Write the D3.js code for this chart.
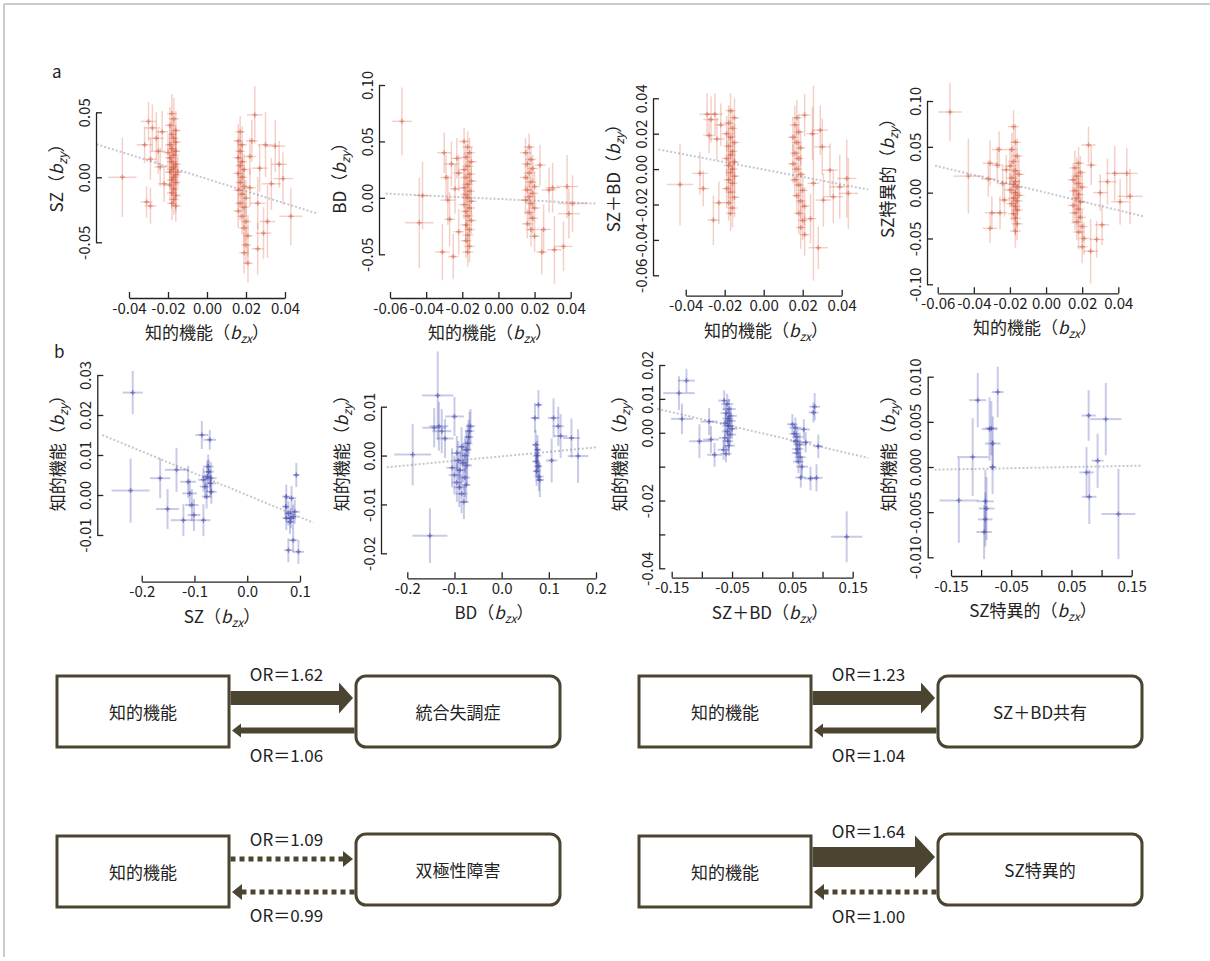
<!DOCTYPE html>
<html>
<head>
<meta charset="utf-8">
<title>MR scatter and OR diagrams</title>
<script src="https://cdn.jsdelivr.net/npm/d3@7"></script>
<style>
  body { margin: 0; background: #fff; }
  svg text { font-family: "Noto Sans CJK JP", "Noto Sans", sans-serif; fill: #222; }
</style>
</head>
<body>
<script>
// ---- panel a: SNP effects, [bzx, half-width x, bzy, half-width y] ----
var snpA1 = [
  [-0.0434,0.0073,0.000,0.0305],
  [-0.030,0.004,0.043,0.015],[-0.028,0.004,0.038,0.018],[-0.032,0.004,0.025,0.014],
  [-0.029,0.003,0.014,0.016],[-0.031,0.003,-0.019,0.012],[-0.029,0.003,-0.022,0.014],
  [-0.026,0.004,0.030,0.020],[-0.025,0.004,0.020,0.017],[-0.024,0.003,0.008,0.015],
  [-0.023,0.003,0.035,0.016],[-0.022,0.003,-0.005,0.014],
  [-0.018,0.0025,0.049,0.015],[-0.017,0.0025,0.045,0.016],[-0.019,0.0025,0.040,0.014],
  [-0.016,0.0025,0.036,0.015],[-0.018,0.0025,0.033,0.013],[-0.017,0.0025,0.030,0.014],
  [-0.016,0.0025,0.027,0.013],[-0.019,0.0025,0.025,0.015],[-0.018,0.0025,0.022,0.012],
  [-0.016,0.0025,0.020,0.014],[-0.017,0.0025,0.017,0.013],[-0.019,0.0025,0.015,0.012],
  [-0.018,0.0025,0.012,0.014],[-0.016,0.0025,0.010,0.012],[-0.017,0.0025,0.008,0.013],
  [-0.018,0.0025,0.006,0.014],[-0.019,0.0025,0.004,0.012],[-0.016,0.0025,0.002,0.013],
  [-0.017,0.0025,0.000,0.013],[-0.018,0.0025,-0.002,0.012],[-0.016,0.0025,-0.004,0.014],
  [-0.019,0.0025,-0.006,0.012],[-0.017,0.0025,-0.009,0.013],[-0.018,0.0025,-0.012,0.012],
  [-0.016,0.0025,-0.014,0.013],[-0.017,0.0025,-0.017,0.012],[-0.018,0.0025,-0.020,0.013],
  [-0.016,0.0025,-0.022,0.012],[-0.020,0.0025,0.019,0.013],[-0.015,0.0025,0.004,0.012],
  [0.017,0.0025,0.035,0.012],[0.016,0.0025,0.028,0.013],[0.018,0.0025,0.025,0.014],
  [0.017,0.0025,0.020,0.013],[0.016,0.0025,0.015,0.012],[0.018,0.0025,0.012,0.013],
  [0.017,0.0025,0.009,0.014],[0.019,0.0025,0.006,0.012],[0.016,0.0025,0.003,0.013],
  [0.018,0.0025,0.000,0.013],[0.017,0.0025,-0.004,0.012],[0.019,0.0025,-0.007,0.014],
  [0.016,0.0025,-0.010,0.013],[0.018,0.0025,-0.013,0.012],[0.020,0.0025,-0.016,0.014],
  [0.017,0.0025,-0.020,0.013],[0.019,0.0025,-0.023,0.015],[0.016,0.0025,-0.026,0.013],
  [0.018,0.0025,-0.030,0.014],[0.020,0.0025,-0.034,0.015],[0.019,0.0025,-0.039,0.016],
  [0.021,0.0025,-0.045,0.016],[0.020,0.0025,-0.052,0.015],[0.019,0.0025,-0.058,0.016],
  [0.021,0.0025,-0.066,0.015],[0.022,0.003,0.016,0.014],[0.022,0.003,-0.008,0.015],
  [0.0245,0.004,0.048,0.022],[0.023,0.003,0.028,0.016],[0.026,0.004,-0.020,0.020],
  [0.027,0.004,0.007,0.018],[0.030,0.004,0.025,0.025],[0.031,0.004,-0.034,0.028],
  [0.029,0.004,-0.043,0.020],[0.035,0.005,0.024,0.020],[0.037,0.004,0.010,0.018],
  [0.039,0.005,-0.001,0.020],[0.043,0.006,-0.030,0.022],[0.033,0.005,-0.005,0.020],
  [0.026,0.003,-0.055,0.020]
];
var snpA2 = [
  [-0.0534,0.0055,0.0678,0.030],[-0.0438,0.008,-0.022,0.040],[-0.042,0.004,0.002,0.030],
  [-0.031,0.004,-0.048,0.025],[-0.030,0.004,0.040,0.018],[-0.029,0.003,0.018,0.020],
  [-0.028,0.004,-0.002,0.022],[-0.027,0.003,-0.019,0.024],[-0.026,0.004,0.030,0.020],
  [-0.025,0.003,-0.052,0.020],[-0.024,0.003,0.008,0.022],[-0.023,0.003,0.035,0.018],
  [-0.022,0.003,-0.030,0.020],[-0.022,0.003,0.022,0.016],
  [-0.019,0.003,0.050,0.012],[-0.017,0.003,0.045,0.014],[-0.016,0.003,0.040,0.013],
  [-0.018,0.003,0.036,0.012],[-0.015,0.003,0.032,0.013],[-0.017,0.003,0.028,0.012],
  [-0.019,0.003,0.025,0.014],[-0.016,0.003,0.021,0.012],[-0.018,0.003,0.018,0.013],
  [-0.015,0.003,0.015,0.012],[-0.017,0.003,0.012,0.013],[-0.019,0.003,0.009,0.012],
  [-0.016,0.003,0.006,0.014],[-0.018,0.003,0.003,0.012],[-0.017,0.003,0.000,0.013],
  [-0.015,0.003,-0.003,0.012],[-0.019,0.003,-0.006,0.013],[-0.016,0.003,-0.009,0.012],
  [-0.018,0.003,-0.012,0.014],[-0.017,0.003,-0.016,0.013],[-0.015,0.003,-0.020,0.012],
  [-0.018,0.003,-0.024,0.013],[-0.016,0.003,-0.028,0.014],[-0.017,0.003,-0.033,0.013],
  [-0.018,0.003,-0.038,0.015],[-0.016,0.003,-0.043,0.014],[-0.017,0.003,-0.048,0.013],
  [0.017,0.003,0.045,0.012],[0.015,0.003,0.040,0.013],[0.018,0.003,0.034,0.012],
  [0.016,0.003,0.030,0.014],[0.019,0.003,0.026,0.012],[0.017,0.003,0.022,0.013],
  [0.015,0.003,0.018,0.012],[0.018,0.003,0.014,0.013],[0.020,0.003,0.010,0.014],
  [0.016,0.003,0.007,0.012],[0.019,0.003,0.004,0.013],[0.017,0.003,0.001,0.012],
  [0.015,0.003,-0.002,0.013],[0.018,0.003,-0.005,0.014],[0.020,0.003,-0.009,0.012],
  [0.017,0.003,-0.013,0.013],[0.019,0.003,-0.018,0.014],[0.016,0.003,-0.023,0.013],
  [0.018,0.003,-0.028,0.015],[0.020,0.003,-0.034,0.014],
  [0.023,0.003,0.029,0.018],[0.025,0.004,-0.028,0.022],[0.024,0.003,-0.048,0.020],
  [0.028,0.004,0.007,0.020],[0.031,0.004,-0.046,0.030],[0.030,0.004,0.009,0.022],
  [0.036,0.005,-0.043,0.022],[0.038,0.006,0.010,0.028],[0.041,0.008,-0.005,0.025],
  [0.039,0.006,-0.014,0.022]
];
var snpA3 = [
  [-0.0429,0.0068,-0.0087,0.023],[-0.0327,0.004,-0.0024,0.012],[-0.031,0.003,-0.011,0.010],
  [-0.0258,0.003,-0.0288,0.014],[-0.023,0.003,-0.019,0.012],[-0.029,0.004,0.031,0.012],
  [-0.027,0.004,0.028,0.013],[-0.025,0.004,0.031,0.012],[-0.024,0.004,0.017,0.012],
  [-0.028,0.003,0.019,0.010],[-0.022,0.003,0.025,0.012],
  [-0.017,0.0025,0.033,0.010],[-0.015,0.0025,0.029,0.011],[-0.018,0.0025,0.026,0.010],
  [-0.016,0.0025,0.023,0.011],[-0.019,0.0025,0.020,0.010],[-0.017,0.0025,0.018,0.010],
  [-0.015,0.0025,0.015,0.011],[-0.018,0.0025,0.013,0.010],[-0.016,0.0025,0.010,0.011],
  [-0.017,0.0025,0.008,0.010],[-0.019,0.0025,0.006,0.010],[-0.015,0.0025,0.004,0.011],
  [-0.018,0.0025,0.002,0.010],[-0.016,0.0025,0.000,0.011],[-0.017,0.0025,-0.002,0.010],
  [-0.015,0.0025,-0.004,0.010],[-0.018,0.0025,-0.006,0.011],[-0.016,0.0025,-0.008,0.010],
  [-0.019,0.0025,-0.011,0.011],[-0.017,0.0025,-0.013,0.010],[-0.015,0.0025,-0.016,0.011],
  [-0.018,0.0025,-0.019,0.010],[-0.016,0.0025,-0.022,0.011],[-0.017,0.0025,-0.025,0.010],
  [0.017,0.0025,0.029,0.010],[0.016,0.0025,0.025,0.011],[0.018,0.0025,0.021,0.010],
  [0.015,0.0025,0.018,0.011],[0.017,0.0025,0.015,0.010],[0.019,0.0025,0.012,0.010],
  [0.016,0.0025,0.009,0.011],[0.018,0.0025,0.006,0.010],[0.015,0.0025,0.003,0.011],
  [0.017,0.0025,0.000,0.010],[0.019,0.0025,-0.003,0.011],[0.016,0.0025,-0.006,0.010],
  [0.018,0.0025,-0.009,0.011],[0.020,0.0025,-0.012,0.010],[0.017,0.0025,-0.015,0.011],
  [0.019,0.0025,-0.018,0.010],[0.021,0.0025,-0.021,0.011],[0.018,0.0025,-0.025,0.012],
  [0.020,0.0025,-0.029,0.011],[0.019,0.0025,-0.033,0.012],[0.021,0.0025,-0.037,0.012],
  [0.021,0.003,0.0305,0.012],[0.0255,0.003,-0.008,0.055],[0.028,0.005,-0.0444,0.012],
  [0.025,0.003,0.020,0.015],
  [0.029,0.004,0.022,0.014],[0.030,0.004,0.0126,0.016],[0.034,0.004,-0.0006,0.015],
  [0.039,0.005,-0.010,0.018],[0.0426,0.005,-0.0053,0.022],[0.0434,0.005,-0.0137,0.020],
  [0.0357,0.005,-0.0156,0.015],[0.0306,0.004,-0.0175,0.015],[0.024,0.003,-0.028,0.014]
];
var snpA4 = [
  [-0.0532,0.0065,0.088,0.032],[-0.043,0.0083,0.018,0.041],[-0.031,0.004,0.032,0.025],
  [-0.032,0.004,0.015,0.020],[-0.030,0.004,-0.022,0.018],[-0.031,0.004,-0.039,0.016],
  [-0.026,0.004,0.047,0.020],[-0.0255,0.004,-0.022,0.018],[-0.027,0.003,0.030,0.020],
  [-0.024,0.003,0.010,0.020],[-0.023,0.003,-0.008,0.018],[-0.022,0.003,0.025,0.016],
  [-0.018,0.003,0.072,0.018],[-0.017,0.003,0.055,0.020],[-0.019,0.003,0.047,0.018],
  [-0.016,0.003,0.040,0.019],[-0.018,0.003,0.034,0.018],[-0.020,0.003,0.029,0.020],
  [-0.017,0.003,0.024,0.018],[-0.015,0.003,0.020,0.019],[-0.019,0.003,0.016,0.018],
  [-0.017,0.003,0.012,0.020],[-0.018,0.003,0.009,0.018],[-0.016,0.003,0.006,0.019],
  [-0.020,0.003,0.003,0.018],[-0.017,0.003,0.000,0.019],[-0.015,0.003,-0.003,0.018],
  [-0.018,0.003,-0.006,0.020],[-0.016,0.003,-0.009,0.018],[-0.019,0.003,-0.012,0.019],
  [-0.017,0.003,-0.015,0.018],[-0.016,0.003,-0.019,0.020],[-0.018,0.003,-0.023,0.018],
  [-0.017,0.003,-0.028,0.019],[-0.016,0.003,-0.034,0.018],[-0.017,0.003,-0.042,0.018],
  [0.018,0.003,0.032,0.018],[0.016,0.003,0.027,0.019],[0.019,0.003,0.022,0.018],
  [0.017,0.003,0.018,0.020],[0.015,0.003,0.014,0.018],[0.018,0.003,0.010,0.019],
  [0.020,0.003,0.006,0.018],[0.016,0.003,0.002,0.020],[0.018,0.003,-0.002,0.018],
  [0.017,0.003,-0.006,0.019],[0.019,0.003,-0.010,0.018],[0.015,0.003,-0.014,0.020],
  [0.018,0.003,-0.018,0.018],[0.016,0.003,-0.022,0.019],[0.019,0.003,-0.027,0.018],
  [0.017,0.003,-0.032,0.020],[0.020,0.003,-0.037,0.018],[0.018,0.003,-0.043,0.019],
  [0.021,0.003,-0.050,0.018],[0.020,0.003,-0.059,0.018],
  [0.0235,0.004,0.052,0.020],[0.0247,0.004,-0.064,0.035],[0.028,0.004,-0.051,0.020],
  [0.031,0.004,-0.035,0.022],[0.030,0.004,0.000,0.020],[0.025,0.003,0.030,0.022],
  [0.038,0.005,0.021,0.030],[0.0447,0.006,0.021,0.028],[0.0465,0.007,-0.004,0.030],
  [0.041,0.005,-0.010,0.025],[0.034,0.005,0.012,0.025]
];

// ---- panel b: psychiatric SNPs on cognition ----
var snpB1 = [
  [-0.217,0.019,0.0256,0.0054],[-0.221,0.036,0.0011,0.008],[-0.165,0.019,0.0042,0.005],
  [-0.151,0.022,-0.0035,0.005],[-0.134,0.022,0.0063,0.0055],[-0.121,0.024,-0.0063,0.004],
  [-0.112,0.015,0.0033,0.004],[-0.109,0.014,0.0004,0.0035],[-0.105,0.013,-0.0025,0.004],
  [-0.101,0.012,-0.005,0.004],[-0.083,0.013,-0.0063,0.004],[-0.086,0.012,0.015,0.0035],
  [-0.071,0.012,0.0138,0.0025],[-0.076,0.010,0.0046,0.004],[-0.073,0.010,0.0058,0.003],
  [-0.070,0.011,0.0029,0.0035],[-0.080,0.010,0.0021,0.003],[-0.068,0.010,0.0008,0.003],
  [-0.077,0.009,-0.0004,0.003],[-0.074,0.010,0.0071,0.003],[-0.083,0.010,0.0038,0.003],
  [-0.069,0.011,0.0042,0.004],
  [0.074,0.008,-0.0004,0.003],[0.084,0.009,-0.0008,0.003],[0.078,0.008,-0.0046,0.003],
  [0.087,0.009,-0.0054,0.003],[0.074,0.007,-0.0058,0.003],[0.081,0.008,-0.0067,0.003],
  [0.090,0.010,-0.0042,0.003],[0.073,0.007,-0.0029,0.003],[0.093,0.006,0.005,0.003],
  [0.078,0.008,-0.0138,0.003],[0.097,0.011,-0.0142,0.003],[0.087,0.008,-0.0113,0.003],
  [0.083,0.009,-0.0058,0.0025]
];
var snpB2 = [
  [-0.1886,0.039,0.0002,0.0063],[-0.152,0.037,-0.0164,0.0056],[-0.1356,0.033,0.0123,0.009],
  [-0.133,0.020,0.006,0.005],[-0.143,0.025,0.0057,0.004],[-0.127,0.020,0.0050,0.0045],
  [-0.120,0.018,0.0035,0.004],[-0.100,0.020,0.008,0.004],
  [-0.105,0.012,-0.0025,0.004],[-0.100,0.012,-0.0040,0.004],[-0.095,0.011,-0.0055,0.004],
  [-0.090,0.012,-0.0065,0.004],[-0.085,0.012,-0.0078,0.004],[-0.080,0.010,-0.0095,0.0035],
  [-0.088,0.011,-0.0030,0.004],[-0.082,0.010,-0.0015,0.004],[-0.078,0.010,0.0000,0.0035],
  [-0.075,0.011,0.0012,0.004],[-0.072,0.010,0.0025,0.004],[-0.070,0.010,0.0038,0.0035],
  [-0.068,0.010,0.0050,0.004],[-0.066,0.010,0.0060,0.0035],[-0.085,0.010,0.0018,0.004],
  [-0.092,0.011,-0.0010,0.004],[-0.078,0.011,-0.0045,0.004],[-0.073,0.010,-0.0020,0.004],
  [-0.095,0.012,0.0005,0.0035],[-0.075,0.009,-0.0060,0.0035],
  [0.078,0.008,0.0104,0.003],[0.0706,0.009,0.0077,0.003],[0.072,0.008,0.0022,0.003],
  [0.075,0.009,0.0000,0.003],[0.073,0.008,-0.0012,0.003],[0.077,0.009,-0.0022,0.003],
  [0.074,0.008,-0.0032,0.003],[0.079,0.010,-0.0043,0.003],[0.081,0.009,-0.0050,0.0035],
  [0.076,0.008,0.0012,0.003],[0.120,0.012,0.0060,0.004],[0.110,0.012,0.0077,0.004],
  [0.125,0.014,0.0040,0.0045],[0.148,0.018,0.0036,0.004],[0.162,0.022,-0.0001,0.0055],
  [0.106,0.012,-0.0010,0.0045]
];
var snpB3 = [
  [-0.138,0.026,0.0117,0.005],[-0.1256,0.014,0.0154,0.0035],[-0.133,0.018,0.0041,0.0045],
  [-0.104,0.017,-0.0025,0.005],[-0.088,0.014,0.0033,0.004],[-0.085,0.013,-0.0020,0.004],
  [-0.079,0.012,-0.0065,0.0035],
  [-0.063,0.010,0.0095,0.003],[-0.058,0.010,0.0085,0.003],[-0.055,0.011,0.0070,0.003],
  [-0.060,0.009,0.0058,0.003],[-0.052,0.010,0.0050,0.003],[-0.057,0.009,0.0042,0.0025],
  [-0.054,0.010,0.0035,0.003],[-0.061,0.009,0.0028,0.003],[-0.056,0.010,0.0020,0.003],
  [-0.050,0.009,0.0012,0.003],[-0.058,0.009,0.0004,0.003],[-0.053,0.010,-0.0005,0.003],
  [-0.062,0.010,-0.0015,0.003],[-0.057,0.009,-0.0025,0.003],[-0.055,0.010,-0.0038,0.003],
  [-0.064,0.010,-0.0050,0.003],[-0.060,0.009,-0.0062,0.0025],
  [0.050,0.009,0.0025,0.003],[0.055,0.010,0.0015,0.003],[0.053,0.008,-0.0003,0.003],
  [0.058,0.009,-0.0012,0.003],[0.056,0.009,-0.0025,0.003],[0.062,0.010,-0.0035,0.0035],
  [0.059,0.009,-0.0048,0.003],[0.057,0.008,-0.0060,0.003],[0.063,0.009,-0.0072,0.003],
  [0.060,0.009,-0.0085,0.0035],[0.066,0.010,-0.0100,0.003],[0.064,0.009,-0.0132,0.003],
  [0.069,0.010,0.0010,0.003],[0.072,0.010,-0.0028,0.003],[0.087,0.009,0.0077,0.004],
  [0.085,0.008,0.0060,0.003],[0.093,0.008,-0.0040,0.0035],[0.090,0.010,-0.0133,0.004],
  [0.080,0.010,-0.0135,0.0035],[0.140,0.026,-0.0307,0.0075]
];
var snpB4 = [
  [-0.0724,0.010,0.0083,0.0028],[-0.1056,0.014,0.0074,0.003],[-0.086,0.013,0.0042,0.0035],
  [-0.0807,0.013,0.0026,0.003],[-0.083,0.010,0.0043,0.003],[-0.114,0.026,0.0011,0.0043],
  [-0.137,0.032,-0.0037,0.0047],[-0.093,0.014,-0.0038,0.0035],[-0.091,0.013,-0.0046,0.0035],
  [-0.093,0.012,-0.0058,0.003],[-0.095,0.013,-0.0072,0.003],[-0.081,0.006,0.0000,0.003],
  [0.0785,0.012,0.0057,0.0028],[0.107,0.026,0.0053,0.004],[0.0934,0.010,0.0007,0.003],
  [0.075,0.012,-0.0006,0.0028],[0.0796,0.012,-0.0033,0.003],[0.128,0.028,-0.0052,0.005]
];

// regression lines (start and end points in data units)
var fitA = [
  [[-0.0566,0.0254],[0.0562,-0.0277]],
  [[-0.0624,0.0038],[0.054,-0.0051]],
  [[-0.054,0.0111],[0.0536,-0.0115]],
  [[-0.0615,0.0295],[0.0539,-0.0259]]
];
var fitB = [
  [[-0.2746,0.015],[0.125,-0.0069]],
  [[-0.2436,-0.0024],[0.2013,0.0017]],
  [[-0.174,0.00706],[0.176,-0.00744]],
  [[-0.1774,-0.0003],[0.168,0.00015]]
];

// ticks and labels
var ticksX_A1 = [-0.04,-0.02,0,0.02,0.04], labelsX_A1 = ["-0.04","-0.02","0.00","0.02","0.04"];
var ticksX_A6 = [-0.06,-0.04,-0.02,0,0.02,0.04], labelsX_A6 = ["-0.06","-0.04","-0.02","0.00","0.02","0.04"];
var ticksY_A1 = [-0.05,0,0.05], labelsY_A1 = ["-0.05","0.00","0.05"];
var ticksY_A2 = [-0.05,0,0.05,0.10], labelsY_A2 = ["-0.05","0.00","0.05","0.10"];
var ticksY_A3 = [-0.06,-0.04,-0.02,0,0.02,0.04], labelsY_A3 = ["-0.06","-0.04","-0.02","0.00","0.02","0.04"];
var ticksY_A4 = [-0.10,-0.05,0,0.05,0.10], labelsY_A4 = ["-0.10","-0.05","0.00","0.05","0.10"];
var ticksX_B1 = [-0.2,-0.1,0,0.1], labelsX_B1 = ["-0.2","-0.1","0.0","0.1"];
var ticksX_B2 = [-0.2,-0.1,0,0.1,0.2], labelsX_B2 = ["-0.2","-0.1","0.0","0.1","0.2"];
var ticksX_B3 = [-0.15,-0.10,-0.05,0,0.05,0.10,0.15], labelsX_B3 = ["-0.15","","-0.05","","0.05","","0.15"];
var ticksY_B1 = [-0.01,0,0.01,0.02,0.03], labelsY_B1 = ["-0.01","0.00","0.01","0.02","0.03"];
var ticksY_B2 = [-0.02,-0.01,0,0.01], labelsY_B2 = ["-0.02","-0.01","0.00","0.01"];
var ticksY_B3 = [-0.04,-0.03,-0.02,-0.01,0,0.01,0.02], labelsY_B3 = ["-0.04","","-0.02","","0.00","0.01","0.02"];
var ticksY_B4 = [-0.010,-0.005,0,0.005,0.010], labelsY_B4 = ["-0.010","-0.005","0.000","0.005","0.010"];

// axis names
var traitsA = ["SZ", "BD", "SZ＋BD", "SZ特異的"];
var cogName = "知的機能";

// ---- OR diagrams ----
var targets = ["統合失調症", "SZ＋BD共有", "双極性障害", "SZ特異的"];
var orForward = ["1.62", "1.23", "1.09", "1.64"];
var orBackward = ["1.06", "1.04", "0.99", "1.00"];
var sigForward = [true, true, false, true];
var sigBackward = [true, true, false, false];

var W = 1210, H = 961;
var svg = d3.select("body").append("svg").attr("width", W).attr("height", H);

// frame
svg.append("line").attr("x1", 4).attr("y1", 4).attr("x2", W).attr("y2", 4).attr("stroke", "#999").attr("stroke-width", 1);
svg.append("line").attr("x1", 4).attr("y1", 4).attr("x2", 4).attr("y2", 957).attr("stroke", "#999").attr("stroke-width", 1);

// plot layout: axis pixel spans (first/last tick) and axis line positions
var red = "rgb(210,82,52)", blue = "rgb(52,60,165)";
var plots = [
  {pts: snpA1, fit: fitA[0], xt: ticksX_A1, xl: labelsX_A1, yt: ticksY_A1, yl: labelsY_A1, xPx: [129, 285], yPx: [242.3, 112.3], ax: 96, ay: 298, xName: cogName, yName: traitsA[0], tx: 207, ty: 174, col: red, fitCol: "#c3c8d6"},
  {pts: snpA2, fit: fitA[1], xt: ticksX_A6, xl: labelsX_A6, yt: ticksY_A2, yl: labelsY_A2, xPx: [390, 570.7], yPx: [254.3, 85], ax: 379, ay: 298, xName: cogName, yName: traitsA[1], tx: 490, ty: 174, col: red, fitCol: "#c3c8d6"},
  {pts: snpA3, fit: fitA[2], xt: ticksX_A1, xl: labelsX_A1, yt: ticksY_A3, yl: labelsY_A3, xPx: [685.7, 841.7], yPx: [275.3, 98.3], ax: 653, ay: 295.7, xName: cogName, yName: traitsA[2], tx: 766, ty: 174, col: red, fitCol: "#c3c8d6"},
  {pts: snpA4, fit: fitA[3], xt: ticksX_A6, xl: labelsX_A6, yt: ticksY_A4, yl: labelsY_A4, xPx: [937.7, 1118.3], yPx: [284.3, 101], ax: 927, ay: 293.3, xName: cogName, yName: traitsA[3], tx: 1035, ty: 174, col: red, fitCol: "#c3c8d6"},
  {pts: snpB1, fit: fitB[0], xt: ticksX_B1, xl: labelsX_B1, yt: ticksY_B1, yl: labelsY_B1, xPx: [141.7, 300], yPx: [535, 375], ax: 97.3, ay: 581.7, xName: traitsA[0], yName: cogName, tx: 222, ty: 449, col: blue, fitCol: "#c6c8c8"},
  {pts: snpB2, fit: fitB[1], xt: ticksX_B2, xl: labelsX_B2, yt: ticksY_B2, yl: labelsY_B2, xPx: [407.3, 596], yPx: [553.3, 406.7], ax: 381, ay: 578.3, xName: traitsA[1], yName: cogName, tx: 494, ty: 449, col: blue, fitCol: "#c6c8c8"},
  {pts: snpB3, fit: fitB[2], xt: ticksX_B3, xl: labelsX_B3, yt: ticksY_B3, yl: labelsY_B3, xPx: [671.7, 852.7], yPx: [568.3, 365], ax: 659.3, ay: 577.7, xName: traitsA[2], yName: cogName, tx: 770, ty: 449, col: blue, fitCol: "#c6c8c8"},
  {pts: snpB4, fit: fitB[3], xt: ticksX_B3, xl: labelsX_B3, yt: ticksY_B4, yl: labelsY_B4, xPx: [951, 1131.7], yPx: [557.3, 376.7], ax: 927.7, ay: 576, xName: traitsA[3], yName: cogName, tx: 1033, ty: 449, col: blue, fitCol: "#c6c8c8"}
];

function addTitle(sel, name, sub) {
  sel.append("tspan").text(name + "（");
  sel.append("tspan").attr("font-style", "italic").text("b");
  sel.append("tspan").attr("font-style", "italic").attr("font-size", 12).attr("dy", 4).text(sub);
  sel.append("tspan").attr("dy", -4).text("）");
}

plots.forEach(function(p, k) {
  var x = d3.scaleLinear().domain([p.xt[0], p.xt[p.xt.length - 1]]).range(p.xPx);
  var y = d3.scaleLinear().domain([p.yt[0], p.yt[p.yt.length - 1]]).range(p.yPx);
  var g = svg.append("g");
  var lw = k < 4 ? 1.5 : 2;

  // regression line
  g.append("line")
    .attr("x1", x(p.fit[0][0])).attr("y1", y(p.fit[0][1]))
    .attr("x2", x(p.fit[1][0])).attr("y2", y(p.fit[1][1]))
    .attr("stroke", p.fitCol).attr("stroke-width", 2).attr("stroke-dasharray", "2,2");

  // error crosses
  var c = g.selectAll("g.snp").data(p.pts).join("g").attr("class", "snp");
  c.append("line")
    .attr("x1", function(d) { return x(d[0] - d[1]); }).attr("x2", function(d) { return x(d[0] + d[1]); })
    .attr("y1", function(d) { return y(d[2]); }).attr("y2", function(d) { return y(d[2]); })
    .attr("stroke", p.col).attr("stroke-opacity", 0.27).attr("stroke-width", lw);
  c.append("line")
    .attr("x1", function(d) { return x(d[0]); }).attr("x2", function(d) { return x(d[0]); })
    .attr("y1", function(d) { return y(d[2] - d[3]); }).attr("y2", function(d) { return y(d[2] + d[3]); })
    .attr("stroke", p.col).attr("stroke-opacity", 0.27).attr("stroke-width", lw);
  c.append("path")
    .attr("d", function(d) { var cx = x(d[0]), cy = y(d[2]); return "M" + (cx - 2.5) + "," + cy + "H" + (cx + 2.5) + "M" + cx + "," + (cy - 2.5) + "V" + (cy + 2.5); })
    .attr("stroke", p.col).attr("stroke-opacity", 0.5).attr("stroke-width", 1.4);

  // axes (R style: inward ticks, line spans first..last tick)
  var xa = g.append("g").attr("transform", "translate(0," + p.ay + ")")
    .call(d3.axisBottom(x).tickValues(p.xt).tickSizeInner(-6).tickSizeOuter(0).tickPadding(5)
      .tickFormat(function(d, i) { return p.xl[i]; }));
  xa.select(".domain").attr("stroke", "#222").attr("stroke-width", 1.3);
  xa.selectAll(".tick line").attr("stroke", "#222").attr("stroke-width", 1.3);
  xa.selectAll("text").attr("font-size", 15).attr("fill", "#222");

  var ya = g.append("g").attr("transform", "translate(" + p.ax + ",0)")
    .call(d3.axisLeft(y).tickValues(p.yt).tickSizeInner(-6).tickSizeOuter(0)
      .tickFormat(function(d, i) { return p.yl[i]; }));
  ya.select(".domain").attr("stroke", "#222").attr("stroke-width", 1.3);
  ya.selectAll(".tick line").attr("stroke", "#222").attr("stroke-width", 1.3);
  ya.selectAll("text")
    .attr("font-size", 15).attr("fill", "#222")
    .attr("x", 0).attr("y", -13).attr("dy", null)
    .attr("dominant-baseline", "central").attr("text-anchor", "middle")
    .attr("transform", "rotate(-90)");
  xa.attr("font-family", null);
  ya.attr("font-family", null);

  // axis titles
  var xt = g.append("text").attr("x", p.tx).attr("y", p.ay + 41)
    .attr("text-anchor", "middle").attr("font-size", 17);
  addTitle(xt, p.xName, "zx");
  var yt = g.append("text").attr("transform", "translate(" + (p.ax - 33) + "," + p.ty + ") rotate(-90)")
    .attr("text-anchor", "middle").attr("font-size", 17);
  addTitle(yt, p.yName, "zy");
});

svg.append("text").attr("x", 52).attr("y", 78).attr("font-size", 17).text("a");
svg.append("text").attr("x", 54).attr("y", 358).attr("font-size", 17).text("b");

// ---- diagrams ----
var boxes = [
  {lx: 57, ly: 676, ry: 676, fy: 698, by: 730.5, fw: 14, bw: 6, fl: 673, bl: 754},
  {lx: 639, ly: 676, ry: 676, fy: 698, by: 730.5, fw: 14, bw: 6, fl: 673, bl: 754},
  {lx: 57, ly: 836, ry: 834, fy: 859, by: 892, fw: 5, bw: 5, fl: 838, bl: 914},
  {lx: 639, ly: 836, ry: 834, fy: 857, by: 892, fw: 20, bw: 5, fl: 830, bl: 915}
];
var ink = "#4b4430";

function arrow(g, x0, x1, yc, w, solid) {
  var dir = x1 > x0 ? 1 : -1;
  var hl = solid ? (w > 8 ? w : 9) : 10;
  var hh = solid ? (w > 8 ? w * 2 + 3 : 14) : 16;
  var xb = x1 - dir * hl;
  var line = g.append("line").attr("x1", x0).attr("x2", xb).attr("y1", yc).attr("y2", yc)
    .attr("stroke", ink).attr("stroke-width", w);
  if (!solid) line.attr("stroke-dasharray", "5,4");
  g.append("path").attr("d", "M" + x1 + "," + yc + "L" + xb + "," + (yc - hh / 2) + "L" + xb + "," + (yc + hh / 2) + "Z")
    .attr("fill", ink);
}

boxes.forEach(function(b, i) {
  var g = svg.append("g");
  var bw = 172, bh = 71, rx = b.lx + 299, rw = 204;
  g.append("rect").attr("x", b.lx).attr("y", b.ly).attr("width", bw).attr("height", bh)
    .attr("fill", "#fff").attr("stroke", ink).attr("stroke-width", 3);
  g.append("rect").attr("x", rx).attr("y", b.ry).attr("width", rw).attr("height", bh)
    .attr("rx", 10).attr("fill", "#fff").attr("stroke", ink).attr("stroke-width", 3);
  g.append("text").attr("x", b.lx + bw / 2).attr("y", b.ly + bh / 2).attr("dominant-baseline", "central")
    .attr("text-anchor", "middle").attr("font-size", 17).text(cogName);
  g.append("text").attr("x", rx + rw / 2).attr("y", b.ry + bh / 2).attr("dominant-baseline", "central")
    .attr("text-anchor", "middle").attr("font-size", 17).text(targets[i]);
  arrow(g, b.lx + bw + 1.5, rx - 3, b.fy, b.fw, sigForward[i]);
  arrow(g, rx - 1.5, b.lx + bw + 3, b.by, b.bw, sigBackward[i]);
  var mid = (b.lx + bw + rx) / 2 - 6;
  g.append("text").attr("x", mid).attr("y", b.fl).attr("dominant-baseline", "central")
    .attr("text-anchor", "middle").attr("font-size", 17).text("OR＝" + orForward[i]);
  g.append("text").attr("x", mid).attr("y", b.bl).attr("dominant-baseline", "central")
    .attr("text-anchor", "middle").attr("font-size", 17).text("OR＝" + orBackward[i]);
});
</script>
</body>
</html>
